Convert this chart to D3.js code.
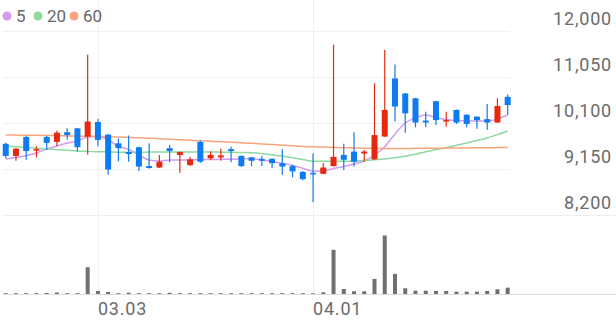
<!DOCTYPE html>
<html>
<head>
<meta charset="utf-8">
<script src="https://cdn.jsdelivr.net/npm/d3@7"></script>
<style>
  body { margin: 0; background: #fff; }
  text { font-family: Roboto, sans-serif; }
</style>
</head>
<body>
<div id="contenedor"></div>
<script>
// datos (precio diario + volumen + medias moviles)
const fechas = ["02.19","02.20","02.21","02.24","02.25","02.26","02.27","02.28","03.02","03.03",
  "03.04","03.05","03.06","03.09","03.10","03.11","03.12","03.13","03.16","03.17",
  "03.18","03.19","03.20","03.23","03.24","03.25","03.26","03.27","03.30","03.31",
  "04.01","04.02","04.03","04.06","04.07","04.08","04.09","04.10","04.13","04.14",
  "04.16","04.17","04.20","04.21","04.22","04.23","04.24","04.27","04.28","04.29"]

const apertura = [9670,9420,9810,9540,9810,9710,9910,9990,9820,10120,9860,9680,9500,9600,9210,9180,9580,9440,9230,9710,9370,9390,9560,9420,9390,9360,9360,9270,9210,9090,9070,9050,9210,9440,9510,9470,9350,9820,11020,10710,10610,10150,10550,10130,10370,10270,10230,10180,10110,10640]
const maximo = [9690,9580,9830,9620,9830,9940,9990,10000,11510,10190,9870,9780,9840,9610,9680,9440,9650,9510,9400,9740,9510,9570,9610,9430,9400,9420,9370,9560,9240,9110,9470,9270,11720,9670,9910,9540,10920,11610,11310,10720,10620,10330,10560,10330,10380,10280,10240,10490,10610,10690]
const minimo = [9370,9320,9340,9390,9540,9620,9760,9510,9450,9620,9030,9310,9300,9110,9160,9170,9290,9070,9210,9280,9340,9320,9290,9190,9210,9210,9170,9030,8980,8920,8470,9040,9200,9130,9200,9300,9340,9810,10130,9900,10010,10010,10060,10020,10080,10010,9980,9960,10100,10270]
const cierre = [9420,9570,9520,9560,9690,9900,9850,9600,10130,9750,9140,9580,9460,9200,9170,9300,9520,9500,9350,9300,9440,9430,9520,9210,9320,9320,9270,9200,9100,8940,9060,9180,9400,9340,9300,9510,9850,10370,10440,10300,10110,10110,10160,10160,10110,10080,10160,10110,10450,10470]

// volumen en miles
const volumen = [8,8,8,8,10,15,8,8,267,30,20,8,13,8,8,8,12,8,8,8,8,8,8,8,8,8,8,8,8,8,7,17,440,50,27,27,150,583,200,57,33,33,30,30,23,23,23,30,47,63]

const media5 = [9357,9387,9429,9480,9563,9625,9687,9728,9811,9821,9749,9615,9553,9439,9336,9315,9336,9336,9336,9346,9346,9350,9350,9357,9367,9336,9305,9268,9222,9165,9103,9109,9160,9202,9253,9315,9439,9611,9873,10100,10203,10265,10214,10172,10152,10141,10141,10137,10183,10265]
const media20 = [9625,9610,9593,9577,9565,9550,9536,9522,9514,9507,9502,9498,9495,9497,9499,9501,9501,9501,9501,9501,9501,9498,9494,9490,9487,9465,9442,9419,9383,9346,9309,9309,9309,9309,9316,9326,9340,9357,9380,9415,9455,9505,9553,9590,9640,9687,9740,9790,9860,9935]
const media60 = [9852,9850,9848,9845,9842,9838,9834,9830,9826,9821,9816,9810,9805,9795,9784,9774,9764,9754,9744,9733,9723,9713,9702,9692,9681,9668,9655,9642,9628,9615,9608,9602,9596,9590,9585,9580,9576,9573,9573,9574,9576,9578,9580,9582,9584,9586,9588,9590,9592,9594]

const ticksPrecio = [8200, 9150, 10100, 11050, 12000]
const fechasEtiqueta = ["03.03", "04.01"]
const medias = [
  {nombre: "5", valores: media5, color: "#d59bf0"},
  {nombre: "20", valores: media20, color: "#8ed9a0"},
  {nombre: "60", valores: media60, color: "#f9a57c"}
]

const ancho = 616
const alto = 321
const rojo = "#e5290f"
const azul = "#0f7bf0"

const svg = d3.select("#contenedor")
  .append("svg")
  .attr("width", ancho)
  .attr("height", alto)

// ESCALAS
const x = d3.scaleBand()
  .domain(d3.range(fechas.length))
  .range([0.6, 512.8])

const cx = i => x(i) + x.bandwidth() / 2

const y = d3.scaleLinear()
  .domain([8200, 12000])
  .range([215, 31])

const yVol = d3.scaleLinear()
  .domain([0, d3.max(volumen) * 1.35])
  .range([294, 215])

// rejilla
svg.selectAll(".rejilla")
  .data(ticksPrecio.slice(1))
  .enter()
  .append("line")
  .attr("x1", 3).attr("x2", 510)
  .attr("y1", d => Math.round(y(d)) + 0.5)
  .attr("y2", d => Math.round(y(d)) + 0.5)
  .attr("stroke", "#f0f0f0")

svg.selectAll(".separador")
  .data([215, 294])
  .enter()
  .append("line")
  .attr("x1", 3).attr("x2", ancho)
  .attr("y1", d => d + 0.5).attr("y2", d => d + 0.5)
  .attr("stroke", (d, i) => i ? "#dcdcdc" : "#eeeeee")

svg.selectAll(".vertical")
  .data(fechasEtiqueta)
  .enter()
  .append("line")
  .attr("x1", d => Math.round(cx(fechas.indexOf(d))) + 0.5)
  .attr("x2", d => Math.round(cx(fechas.indexOf(d))) + 0.5)
  .attr("y1", 0).attr("y2", 294)
  .attr("stroke", "#f0f0f0")

// eje de precios (derecha)
svg.selectAll(".etiquetaY")
  .data(ticksPrecio)
  .enter()
  .append("text")
  .attr("x", 612)
  .attr("y", d => y(d) - 6)
  .attr("text-anchor", "end")
  .attr("font-size", 18)
  .attr("letter-spacing", 0.8)
  .attr("fill", "#6b6b6b")
  .text(d3.format(","))

// eje de fechas
svg.selectAll(".etiquetaX")
  .data(fechasEtiqueta)
  .enter()
  .append("text")
  .attr("x", d => cx(fechas.indexOf(d)))
  .attr("y", 315)
  .attr("font-size", 18)
  .attr("letter-spacing", 0.8)
  .attr("fill", "#6b6b6b")
  .text(d => d)

// medias moviles
const linea = d3.line()
  .x((d, i) => cx(i))
  .y(d => y(d))
  .curve(d3.curveMonotoneX)

svg.selectAll(".media")
  .data(medias)
  .enter()
  .append("path")
  .attr("d", d => linea(d.valores))
  .attr("fill", "none")
  .attr("stroke", d => d.color)
  .attr("stroke-width", 1.5)

// velas
const velas = svg.selectAll(".vela")
  .data(fechas.map((f, i) => i))
  .enter()
  .append("g")

const colorVela = i => cierre[i] >= apertura[i] ? rojo : azul

velas.append("line")
  .attr("x1", i => cx(i)).attr("x2", i => cx(i))
  .attr("y1", i => y(maximo[i]))
  .attr("y2", i => y(minimo[i]))
  .attr("stroke", colorVela)
  .attr("stroke-width", 1.2)

velas.append("rect")
  .attr("x", i => cx(i) - 3)
  .attr("width", 6)
  .attr("y", i => y(Math.max(apertura[i], cierre[i])))
  .attr("height", i => Math.max(1.5, Math.abs(y(apertura[i]) - y(cierre[i]))))
  .attr("fill", colorVela)

// volumen
svg.selectAll(".volumen")
  .data(volumen)
  .enter()
  .append("rect")
  .attr("x", (d, i) => cx(i) - 2)
  .attr("width", 4)
  .attr("y", d => yVol(d))
  .attr("height", d => 294 - yVol(d))
  .attr("fill", "#707070")

// leyenda
const leyenda = svg.selectAll(".leyenda")
  .data(medias)
  .enter()
  .append("g")
  .attr("transform", (d, i) => "translate(" + [7, 38, 74][i] + ",16)")

leyenda.append("circle")
  .attr("r", 4.5)
  .attr("fill", d => d.color)

leyenda.append("text")
  .attr("x", 9)
  .attr("y", 6)
  .attr("font-size", 17)
  .attr("fill", "#666")
  .text(d => d.nombre)
</script>
</body>
</html>
